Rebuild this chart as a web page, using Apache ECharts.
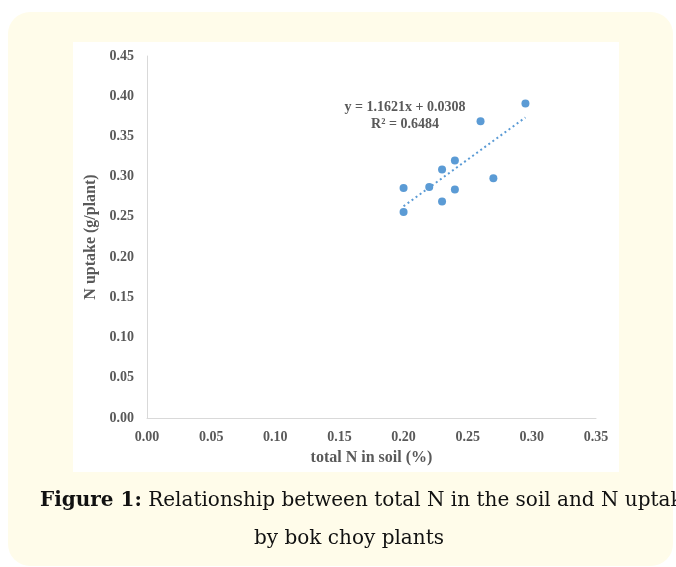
<!DOCTYPE html>
<html><head><meta charset="utf-8">
<script src="https://cdn.jsdelivr.net/npm/echarts@6/dist/echarts.min.js"></script>
<style>html,body{margin:0;padding:0;background:#fff;overflow:hidden}#c{width:676px;height:567px}</style>
</head><body><div id="c"></div>
<script>
const soilN = [0.20, 0.20, 0.22, 0.23, 0.23, 0.24, 0.24, 0.26, 0.27, 0.295];
const uptake = [0.286, 0.256, 0.287, 0.309, 0.269, 0.320, 0.284, 0.369, 0.298, 0.391];
const xTicks = [0, 0.05, 0.10, 0.15, 0.20, 0.25, 0.30, 0.35];
const yTicks = [0, 0.05, 0.10, 0.15, 0.20, 0.25, 0.30, 0.35, 0.40, 0.45];
const slope = 1.1621, intercept = 0.0308;
const eqText = "y = 1.1621x + 0.0308";
const r2Text = "R² = 0.6484";
const xName = "total N in soil (%)";
const yName = "N uptake (g/plant)";
const captionBold = "Figure 1:";
const captionLine1 = "Relationship between total N in the soil and N uptake";
const captionLine2 = "by bok choy plants";

const pts = soilN.map((x, i) => [x, uptake[i]]);
const xMin = Math.min(...soilN), xMax = Math.max(...soilN);
const trend = [[xMin, slope * xMin + intercept], [xMax, slope * xMax + intercept]];

const chart = echarts.init(document.getElementById('c'), null, {renderer: 'canvas'});
const serif = '"Liberation Serif", "Times New Roman", serif';
const cap = '"DejaVu Serif", serif';
chart.setOption({
  animation: false,
  graphic: [
    {type: 'rect', z: -10, shape: {x: 8, y: 12, width: 665, height: 554, r: 22}, style: {fill: '#fffcea'}},
    {type: 'rect', z: -9, shape: {x: 73, y: 42, width: 546, height: 430}, style: {fill: '#ffffff'}},
    {type: 'text', x: 405, y: 107, z: 5, style: {text: eqText, font: 'bold 14px ' + serif, fill: '#595959', textAlign: 'center', textVerticalAlign: 'middle'}},
    {type: 'text', x: 405, y: 124, z: 5, style: {text: r2Text, font: 'bold 14px ' + serif, fill: '#595959', textAlign: 'center', textVerticalAlign: 'middle'}},
    {type: 'text', x: 40, y: 501, z: 5, style: {
      text: '{b|' + captionBold + '} ' + captionLine1,
      font: '20px ' + cap, fill: '#111', textAlign: 'left', textVerticalAlign: 'middle',
      rich: {b: {fontFamily: cap, fontWeight: 'bold', fontSize: 20, fill: '#111', color: '#111'}}}},
    {type: 'text', x: 349, y: 539, z: 5, style: {text: captionLine2, font: '20px ' + cap, fill: '#111', textAlign: 'center', textVerticalAlign: 'middle'}}
  ],
  grid: {left: 147, top: 56, right: 80, bottom: 149, containLabel: false},
  xAxis: {
    type: 'value', min: 0, max: 0.35, interval: 0.05,
    name: xName, nameLocation: 'middle', nameGap: 32,
    nameTextStyle: {fontFamily: serif, fontWeight: 'bold', fontSize: 16, color: '#595959'},
    axisLine: {show: true, lineStyle: {color: '#d9d9d9', width: 1}},
    axisTick: {show: false}, splitLine: {show: false},
    axisLabel: {fontFamily: serif, fontWeight: 'bold', fontSize: 14, color: '#595959', margin: 12,
      formatter: v => { const t = xTicks.find(k => Math.abs(k - v) < 1e-9); return (t === undefined ? v : t).toFixed(2); }}
  },
  yAxis: {
    type: 'value', min: 0, max: 0.45, interval: 0.05,
    name: yName, nameLocation: 'middle', nameGap: 43, nameRotate: 90,
    nameTextStyle: {fontFamily: serif, fontWeight: 'bold', fontSize: 16, color: '#595959'},
    axisLine: {show: true, lineStyle: {color: '#d9d9d9', width: 1}},
    axisTick: {show: false}, splitLine: {show: false},
    axisLabel: {fontFamily: serif, fontWeight: 'bold', fontSize: 14, color: '#595959', margin: 13,
      formatter: v => { const t = yTicks.find(k => Math.abs(k - v) < 1e-9); return (t === undefined ? v : t).toFixed(2); }}
  },
  series: [
    {type: 'line', data: trend, symbol: 'none', silent: true, z: 2,
      lineStyle: {color: '#5b9bd5', width: 2, type: [2, 3]}},
    {type: 'scatter', data: pts, symbolSize: 8, z: 3, itemStyle: {color: '#5b9bd5', opacity: 1}}
  ]
});
</script></body></html>
